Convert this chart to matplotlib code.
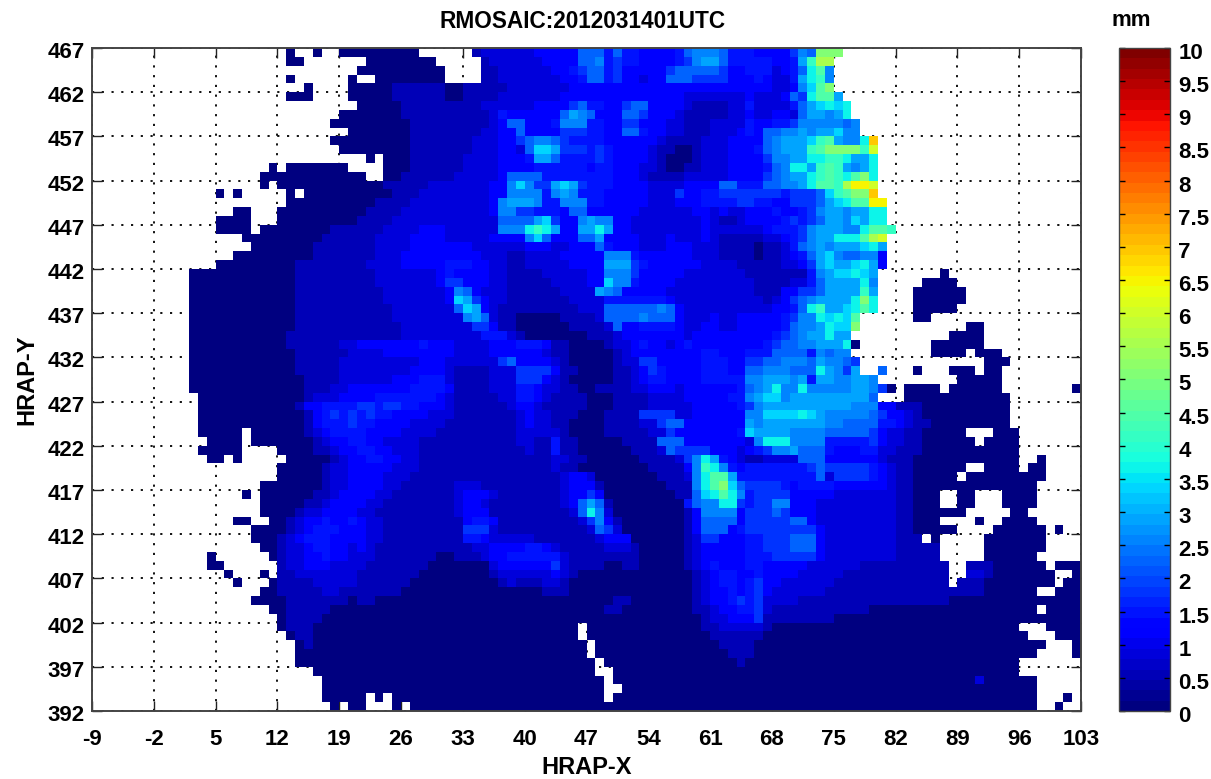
import numpy as np
import matplotlib
matplotlib.use("Agg")
import matplotlib.pyplot as plt
from matplotlib.cm import ScalarMappable
from matplotlib.colors import Normalize
from matplotlib.transforms import ScaledTranslation

title = "RMOSAIC:2012031401UTC"
x_ticks = [-9, -2, 5, 12, 19, 26, 33, 40, 47, 54, 61, 68, 75, 82, 89, 96, 103]
x_labels = ["-9", "-2", "5", "12", "19", "26", "33", "40", "47", "54", "61", "68", "75", "82", "89", "96", "103"]
y_ticks = [392, 397, 402, 407, 412, 417, 422, 427, 432, 437, 442, 447, 452, 457, 462, 467]
cbar_ticks = [0, 0.5, 1, 1.5, 2, 2.5, 3, 3.5, 4, 4.5, 5, 5.5, 6, 6.5, 7, 7.5, 8, 8.5, 9, 9.5, 10]
cbar_labels = ["0", "0.5", "1", "1.5", "2", "2.5", "3", "3.5", "4", "4.5", "5", "5.5", "6", "6.5", "7", "7.5", "8", "8.5", "9", "9.5", "10"]

# mm for each letter used in the rows below, '.' = no data
codes = "0123456789abcdefgh"
code_mm = [0.1, 0.5, 0.85, 1.15, 1.5, 1.85, 2.2, 2.55, 2.95, 3.3, 3.7, 4.1, 4.5, 5.0, 5.5, 6.0, 6.5, 7.0]

# top row is HRAP-Y 466-467, blocks of ten columns
W = ".........."
Z = "0000000000"
rows = [
 W+W+"..0..0..00"+"0000000..."+"...1222222"+"3333366646"+"4433334677"+"7644433335"+"76ddd....."+W+W+"..",
 W+W+"..00......"+".00000000."+"....122222"+"2333366745"+"4433334578"+"8644444334"+"8bee......"+W+W+"..",
 W+W+W+Z+"....112222"+"2233456645"+"3333356666"+"6533444234"+"6ac7......"+W+W+"..",
 W+W+"..0......0"+"..00000000"+"....112222"+"2223346645"+"3323366655"+"5533343224"+"8ab7......"+W+W+"..",
 W+W+"....0....0"+"0000111111"+"0011111222"+"2222333333"+"3333333333"+"3333333223"+"79cd......"+W+W+"..",
 W+W+"..000....0"+"0000111111"+"0011112222"+"2223333333"+"3333333222"+"2222322236"+"5acc8....."+W+W+"..",
 W+W+W+"0000011111"+"1111222222"+"3333564433"+"5663333211"+"1122422224"+"689a9a...."+W+W+"..",
 W+W+"........00"+"0000011111"+"1111124333"+"3336876333"+"6653332111"+"1122322332"+"68878a...."+W+W+"..",
 W+W+".......000"+"0000001111"+"1111123663"+"3347774433"+"5533322111"+"2222433445"+"7777767..."+W+W+"..",
 W+W+".........0"+"0000001111"+"1111223363"+"3335554433"+"6643322111"+"2223436677"+"8788977..."+W+W+"..",
 W+W+".......000"+"0000001111"+"1112223356"+"7765444433"+"3333211112"+"2233336788"+"89bc877ah."+W+W+"..",
 W+W+"........00"+"0000001111"+"1112223326"+"9985554543"+"3332110012"+"2233346788"+"8bcddddbf."+W+W+"..",
 W+W+W+".0.0001111"+"1122223334"+"8864444543"+"3332100012"+"2233335778"+"8aabba88a."+W+W+"..",
 W+W+"0.0000000."+"...0001111"+"1122223333"+"4444443443"+"3322100112"+"223333467a"+"a8bcb878a."+W+W+"..",
 W+".........0"+Z+"0..0011111"+"1222223666"+"6444444443"+"3321111222"+"2233335678"+"8abcbacda."+W+W+"..",
 W+".........0"+".000000000"+"0001111122"+"2222233797"+"5589854443"+"3332222333"+"3664446677"+"8accbeggf."+W+W+"..",
 W+"....0.0..."+"..0.000000"+"0000111222"+"2222233777"+"7478744433"+"3332225334"+"4555555545"+"5569bcddh."+W+W+"..",
 W+W+"..00000000"+"0011112222"+"2222237888"+"7447774433"+"3332223334"+"4445544335"+"55689accgg"+W+W+"..",
 W+"......00.."+".000000000"+"0111122222"+"2222237755"+"4443663333"+"3322222233"+"2322333433"+"45788788aa"+W+W+"..",
 W+"....0000.."+".000000000"+"1111222222"+"2222226666"+"8953378773"+"3222222223"+"2112333345"+"45688798aa"+W+W+"..",
 W+"....0000.0"+"0000000111"+"1112222333"+"222222777a"+"ba83388a83"+"3222222223"+"2222223444"+"5788877acc"+"b........."+W+"..",
 W+".......000"+"0000001111"+"1122223333"+"2222233337"+"9633366833"+"3322232223"+"2111112234"+"5788aaacef"+W+W+"..",
 W+"........00"+"0000011111"+"1122223333"+"3332222223"+"3322333643"+"3322233322"+"2111101124"+"67878889a8"+W+W+"..",
 W+"......0000"+"0000011111"+"1122233333"+"3333222112"+"2223333377"+"7433333322"+"2111101123"+"4689766773"+W+W+"..",
 W+"....000000"+"0001111111"+"1222233333"+"4443322112"+"2222333388"+"8543333332"+"2221111122"+"3589889a83"+W+W+"..",
 W+".000000000"+"0001111111"+"1122222223"+"4333322111"+"1222223377"+"7533333222"+"2222111111"+"147899a98."+"......0..."+W+"..",
 W+".000000000"+"0001111111"+"1122222223"+"5533322111"+"1122223397"+"7433332222"+"2222211112"+"2468888a7."+"....0000.."+W+"..",
 W+".000000000"+"0001111111"+"1112222222"+"3763222111"+"1112222876"+"3333322222"+"2222211133"+"5568888b8."+"...000000."+W+"..",
 W+".000000000"+"0001111111"+"1112222222"+"3985322111"+"1111222244"+"4444432222"+"2222221235"+"678888ada."+"...000000."+W+"..",
 W+".000000000"+"0001111111"+"1111222222"+"2698321111"+"1111122266"+"6666763222"+"2222222334"+"6ab889aca."+"...00000.."+W+"..",
 W+".000000000"+"0001111111"+"1111222222"+"2278621100"+"0001111266"+"6676663222"+"3223333345"+"77a9a9c..."+"...00....."+W+"..",
 W+".000000000"+"0001111111"+"1111122222"+"2225531100"+"0000111126"+"3344443223"+"3223333346"+"778a99d..."+".........0"+"0........."+"..",
 W+".000000000"+"0011111111"+"1111122222"+"2222444210"+"0000001112"+"3333333233"+"3333333456"+"788a88...."+".......000"+"0........."+"..",
 W+".000000000"+"0011111122"+"3333333433"+"3222233344"+"4311000012"+"2343323433"+"3333334566"+"77888a0..."+".....00000"+"0........."+"..",
 W+".000000000"+"0001111112"+"2223333333"+"3222233333"+"3211000001"+"2333333334"+"4333444666"+"647677...."+".....0000."+"000......."+"..",
 W+".000000000"+"0001111122"+"2222222333"+"2222225633"+"3321000001"+"2255333334"+"4433556677"+"7687765..."+W+".000......"+"..",
 W+".000000000"+"0001111122"+"2222223333"+"2111122255"+"5531100001"+"1235433334"+"4433667776"+"66a8758..6"+"...0...000"+".00......."+"..",
 W+".000000000"+"0000111122"+"2222333444"+"2111122255"+"5321000001"+"1234433334"+"4444778887"+"848877887."+"........00"+"000......."+"..",
 W+".000000000"+"0000111223"+"3333334444"+"3111122244"+"3221100111"+"1223332333"+"3334678a77"+"a777778875"+"0.0000.000"+"000......."+".0",
 W+"..00000000"+"0000122233"+"3344444443"+"2111112244"+"3211110001"+"1112222333"+"3344789978"+"888888886."+"..00000000"+"0000......"+"..",
 W+"..00000000"+"0001334444"+"5545544333"+"2111111233"+"2111110001"+"1112222233"+"3334578888"+"8888887773"+"3111000000"+"0000......"+"..",
 W+"..00000000"+"0000134545"+"4544333322"+"2111111123"+"2211100011"+"1155552233"+"3333779999"+"a987777765"+"3321000000"+"0000......"+"..",
 W+"..00000000"+"0000134445"+"4433332222"+"1111111123"+"2211000011"+"1122566333"+"3333878888"+"8887766664"+"4321100000"+"0000......"+"..",
 W+"..00000.00"+"0000123444"+"4333322221"+"1111111122"+"2221000011"+"1112253333"+"3334988887"+"7776666653"+"221100000."+"..000....."+"..",
 W+"...0000.00"+"0000012334"+"4332222111"+"1111111122"+"1141100000"+"1111666333"+"333327aaa7"+"7774444453"+"2211000000"+".0000....."+"..",
 W+"..00000..."+".000011233"+"4433222111"+"1111111112"+"1141100000"+"0111265555"+"3332345778"+"6664333442"+"2111000000"+"00000....."+"..",
 W+"...00.0..."+"..00000123"+"3443322111"+"1111111111"+"1122110000"+"001111257a"+"8432112222"+"6663333332"+"1110000000"+"00000..0.."+"..",
 W+W+".000001223"+"3333222111"+"1111111111"+"1121100000"+"000111137b"+"a743444444"+"4565555543"+"211000000."+".0000.00.."+"..",
 W+W+".000001223"+"3332221111"+"1111111111"+"1112332000"+"000011127a"+"cc84444444"+"4462555543"+"21100000.0"+"00000000.."+"..",
 W+".........0"+"0000001223"+"3332211111"+"1222111111"+"1112333100"+"000001117a"+"cd96555543"+"4444333333"+"2110000000"+"0000000..."+"..",
 W+".......0.0"+"0000011233"+"3322111111"+"1233321111"+"1112335300"+"0000001169"+"aca7455553"+"3333222222"+"211000..00"+"...0000..."+"..",
 W+".........0"+"0000112333"+"3221111111"+"1233211111"+"1112368610"+"0000000467"+"7aa5455773"+"3322222222"+"211000..00"+"...0000..."+"..",
 W+".........0"+"0001223333"+"2211111111"+"1233311111"+"111126a720"+"0000000137"+"7773555653"+"3322222222"+"211000000."+"....00...."+"..",
 W+"......00.."+"0012334334"+"3221111111"+"1134431111"+"1111125731"+"0000000136"+"6663555556"+"6322222222"+"211000...."+"0..0000..."+"..",
 W+"........00"+"0012344433"+"3221111111"+"1155521111"+"1111112652"+"0000000136"+"6634555555"+"5532222222"+"21100000.."+"..000000.0"+"..",
 W+"........00"+"0123444333"+"3221111111"+"1144322222"+"1111111233"+"3000000125"+"5333445556"+"6632222222"+"2111.0...."+".0000000.."+"..",
 W+".........0"+"0122344332"+"3211111111"+"1112233334"+"4321111122"+"2100000123"+"3333445556"+"6632222222"+"211111...."+".0000000.."+"..",
 W+"...0......"+"0122334332"+"2211111110"+"0111233444"+"4442111111"+"1100000123"+"3333444555"+"5532222222"+"211111...."+".000000..."+"..",
 W+"...00....."+".122333222"+"2111111100"+"0000023333"+"3352111100"+"1100000123"+"4333443333"+"3222222111"+"1111111..1"+"11000000.0"+"00",
 W+".....0...0"+".112222222"+"1111111000"+"0000012222"+"2232100000"+"0000000012"+"3443343333"+"2222211111"+"1111111..2"+"210000000."+".0",
 W+"......0..."+"0111122222"+"1111110000"+"0000001211"+"1221000000"+"0000000012"+"3443453322"+"2222111111"+"1111111.11"+"100000000."+"00",
 W+".........0"+"0111112211"+"1111100000"+Z+"0111000000"+"0000000012"+"3343453222"+"2221111111"+"1111111111"+"1000000..0"+"00",
 W+"........00"+"0011111110"+"1100000000"+Z+"0000000001"+"1000000012"+"3345452222"+"1111111111"+"1111111000"+Z+"00",
 W+W+"0011111000"+Z+Z+"0000000011"+"0000000011"+"2334452111"+"1111111100"+Z+"0000000.00"+"00",
 W+W+".011110000"+Z+Z+Z+"0000000001"+"2233351111"+"1111000000"+Z+Z+"00",
 W+W+".011100000"+Z+Z+"00000.0000"+"0000000001"+"1222221000"+Z+Z+"00000...00"+"00",
 W+W+"..01100000"+Z+Z+"00000.0000"+Z+"1111110000"+Z+Z+"000000...0"+"00",
 W+W+"...0100000"+Z+Z+"000000.000"+Z+"0111100000"+Z+Z+"00000000.."+".0",
 W+W+"...0000000"+Z+Z+"000000.000"+Z+"0011100000"+Z+Z+"0000000..."+".0",
 W+W+"...0000000"+Z+Z+"0000000.00"+Z+"0001000000"+Z+Z+"00000....."+"..",
 W+W+".....00000"+Z+Z+"0000000..0"+Z+Z+Z+Z+"00000....."+"..",
 W+W+"......0000"+Z+Z+"00000000.0"+Z+Z+Z+Z+"2000000..."+"..",
 W+W+"......0000"+Z+Z+"00000000.."+Z+Z+Z+Z+"0000000..."+"..",
 W+W+"......0000"+"0.0.000000"+Z+"00000000.0"+Z+Z+Z+Z+"0000000..."+"0.",
 W+W+".......0.0"+"0...0.0000"+Z+Z+Z+Z+Z+Z+"0000000..0"+"..",
]

plt.rcParams['font.family'] = ['Liberation Sans', 'DejaVu Sans']
plt.rcParams['font.weight'] = 'bold'

W_PX, H_PX = 1211, 779


def px_axes(fig, left, top, right, bottom):
    return fig.add_axes([left / W_PX, 1 - bottom / H_PX, (right - left) / W_PX, (bottom - top) / H_PX])


def main():
    bad = [i for i, r in enumerate(rows) if len(r) != 112]
    assert not bad and len(rows) == 75, (bad, len(rows))

    lookup = dict(zip(codes, code_mm))
    lookup['.'] = np.nan
    grid = np.array([[lookup[c] for c in r] for r in rows])[::-1]

    x_edges = np.arange(-9, 104)
    y_edges = np.arange(392, 468)
    cmap = plt.get_cmap('jet', 64)
    norm = Normalize(0, 10)

    fig = plt.figure(figsize=(W_PX / 100, H_PX / 100), dpi=100)
    ax = px_axes(fig, 92, 48, 1081, 711)

    ax.set_axisbelow(True)
    ax.grid(True, color='black', linestyle=(0, (1.2, 4.2)), linewidth=1.3)
    ax.pcolormesh(x_edges, y_edges, np.ma.masked_invalid(grid), cmap=cmap, norm=norm, zorder=2)

    ax.set_xlim(-9, 103)
    ax.set_ylim(392, 467)
    ax.set_xticks(x_ticks)
    ax.set_xticklabels(x_labels)
    ax.set_yticks(y_ticks)
    ax.tick_params(direction='in', length=7, width=1.0, labelsize=16, color='#222222',
                   top=True, right=True, zorder=3)
    ax.tick_params(axis='x', pad=13)
    ax.tick_params(axis='y', pad=5)
    for s in ax.spines.values():
        s.set_linewidth(1.4)
        s.set_color('#444444')
        s.set_zorder(4)
    # label positions
    fig.text(587 / W_PX, 1 - 767 / H_PX, "HRAP-X", fontsize=17, fontweight='bold', ha='center', va='center')
    fig.text(27 / W_PX, 1 - 380 / H_PX, "HRAP-Y", fontsize=17, fontweight='bold', ha='center', va='center', rotation=90)
    fig.text(583 / W_PX, 1 - 22 / H_PX, title, fontsize=16.3, fontweight='bold', ha='center', va='center')
    fig.text(1131 / W_PX, 1 - 21 / H_PX, "mm", fontsize=16, fontweight='bold', ha='center', va='center')

    shift = ScaledTranslation(0, -2 / 100, fig.dpi_scale_trans)
    for lab in ax.get_yticklabels():
        lab.set_transform(lab.get_transform() + shift)

    cax = px_axes(fig, 1119, 48, 1170, 711)
    cb = fig.colorbar(ScalarMappable(norm=norm, cmap=cmap), cax=cax, ticks=cbar_ticks)
    cb.ax.set_yticklabels(cbar_labels)
    cb.ax.tick_params(direction='in', length=4, width=1.0, labelsize=16, left=True, right=True, pad=6)
    cb.outline.set_linewidth(1.0)
    cb.outline.set_edgecolor('#444444')
    shift = ScaledTranslation(0, -3 / 100, fig.dpi_scale_trans)
    for lab in cb.ax.get_yticklabels():
        lab.set_transform(lab.get_transform() + shift)

    fig.savefig("out.png", dpi=100)


if __name__ == '__main__':
    main()
